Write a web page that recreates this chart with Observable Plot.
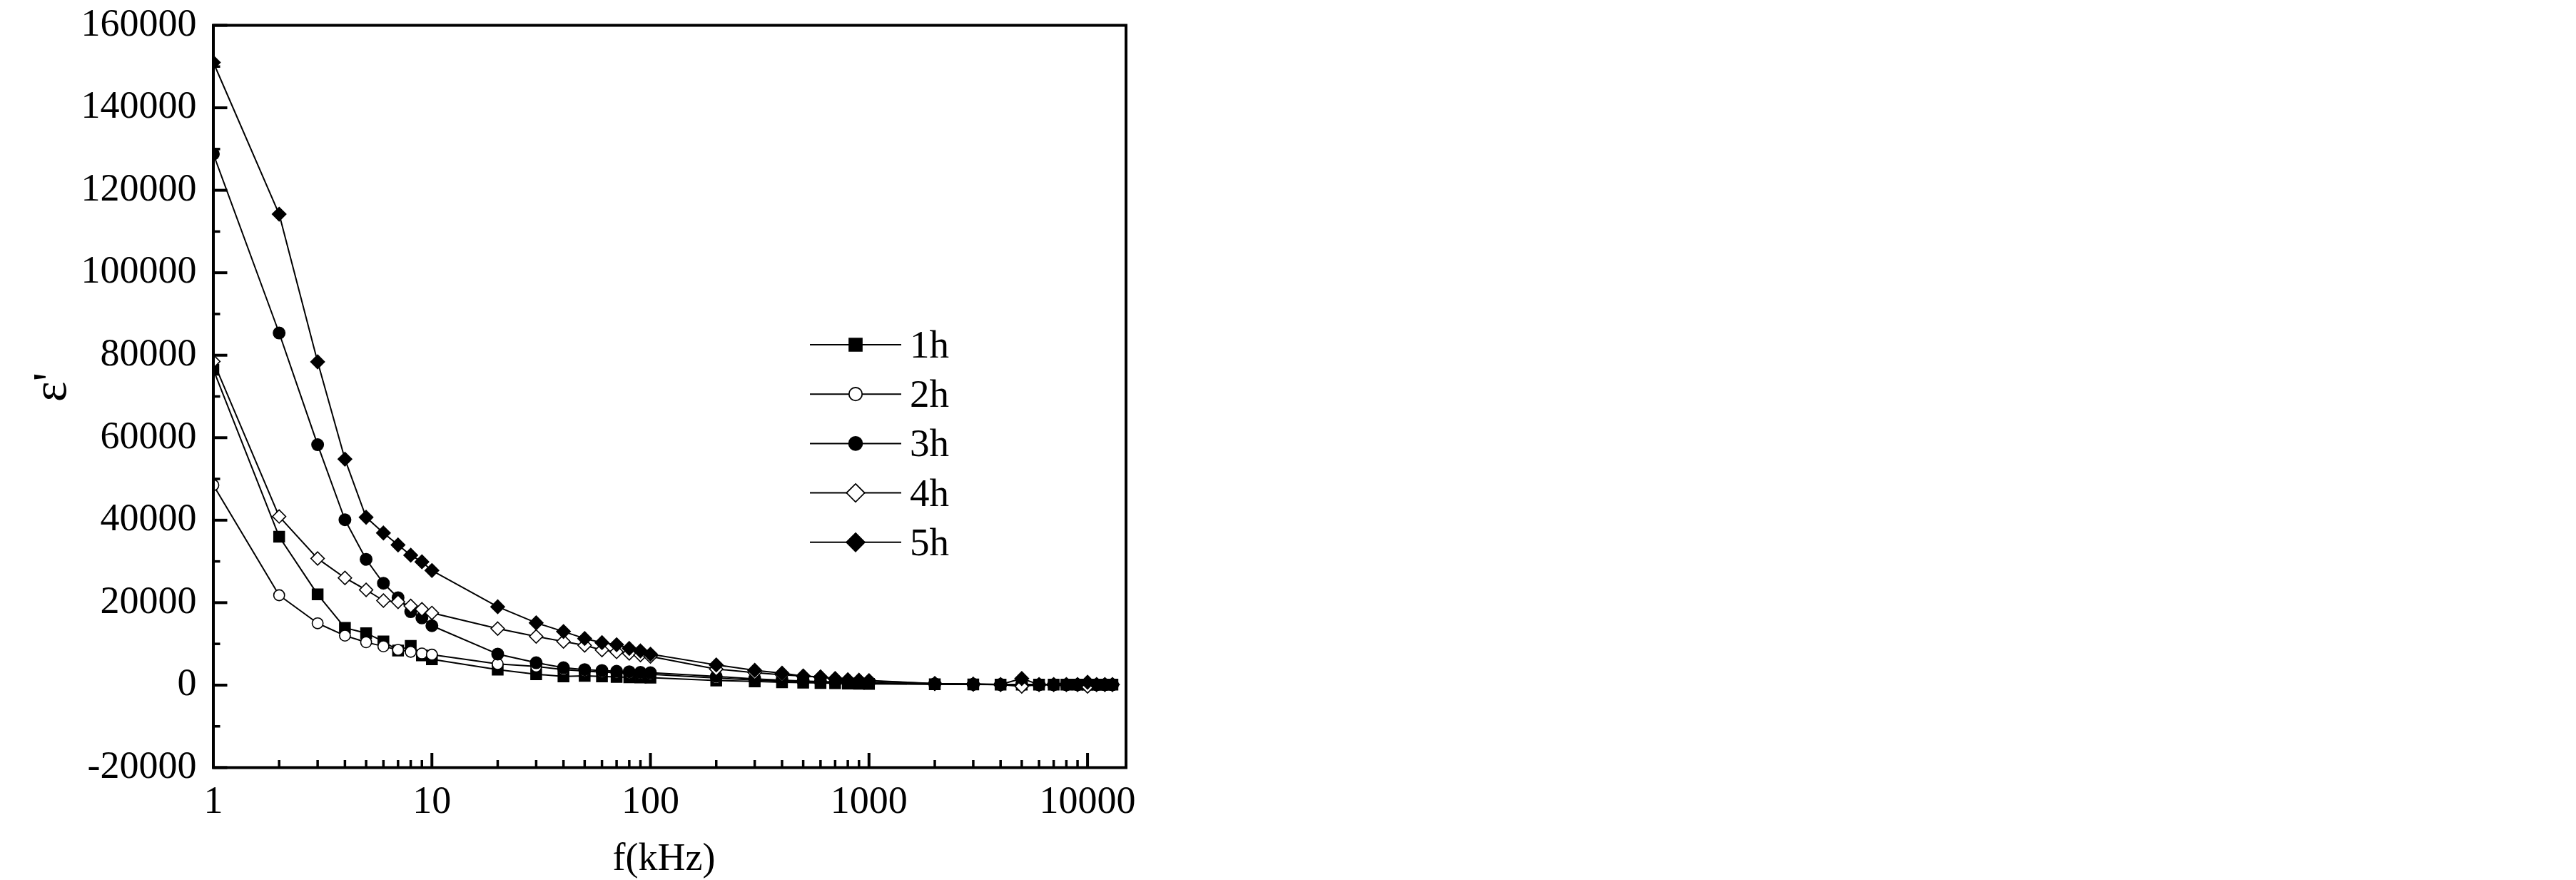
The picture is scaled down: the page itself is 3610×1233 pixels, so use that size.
<!DOCTYPE html>
<html>
<head>
<meta charset="utf-8">
<script src="https://cdn.jsdelivr.net/npm/d3@7"></script>
<script src="https://cdn.jsdelivr.net/npm/@observablehq/plot@0.6"></script>
<style>
  html, body { margin: 0; padding: 0; background: #ffffff; }
  #chart { position: relative; width: 3610px; height: 1233px; background: #ffffff; }
  #legend { position: absolute; left: 0; top: 0; pointer-events: none; }
</style>
</head>
<body>
<div id="chart"></div>
<script>
// ---------------- data ----------------
const series = ["1h", "2h", "3h", "4h", "5h"];

const freqKHz = [1, 2, 3, 4, 5, 6, 7, 8, 9, 10,
  20, 30, 40, 50, 60, 70, 80, 90, 100,
  200, 300, 400, 500, 600, 700, 800, 900, 1000,
  2000, 3000, 4000, 5000, 6000, 7000, 8000, 9000, 10000,
  11000, 12000, 13000];

const eps1h = [76500, 36000, 22000, 13900, 12600, 10600, 8400, 9500, 7200, 6250,
  3770, 2630, 2110, 2250, 2100, 2000, 1900, 1850, 1800,
  1120, 900, 700, 600, 500, 450, 400, 350, 300,
  200, 150, 120, 100, 100, 100, 100, 100, 100,
  100, 100, 100];

const eps2h = [48500, 21800, 15000, 12000, 10400, 9400, 8550, 8080, 7680, 7390,
  5120, 4520, 3770, 3390, 3150, 3000, 2850, 2750, 2630,
  1700, 1250, 950, 800, 700, 600, 500, 450, 400,
  250, 200, 150, 100, 100, 100, 100, 100, 100,
  100, 100, 100];

const eps3h = [128800, 85400, 58300, 40100, 30500, 24700, 21200, 17800, 16300, 14400,
  7530, 5430, 4220, 3770, 3550, 3350, 3240, 3100, 3010,
  2110, 1510, 1200, 1000, 850, 750, 650, 600, 550,
  300, 200, 150, 150, 100, 100, 100, 100, 100,
  100, 100, 100];

const eps4h = [78500, 40900, 30700, 26000, 23100, 20500, 20200, 19200, 18400, 17500,
  13700, 11800, 10600, 9640, 8510, 8060, 7680, 7300, 6940,
  3900, 3000, 2500, 2200, 1950, 1500, 1200, 1100, 1000,
  350, 200, 100, -300, 100, 100, 100, 100, -300,
  100, 100, 100];

const eps5h = [151000, 114200, 78400, 54800, 40700, 36900, 34000, 31500, 29900, 27800,
  19000, 15100, 13000, 11300, 10300, 9800, 8900, 8300, 7500,
  4900, 3600, 2900, 2200, 2000, 1600, 1300, 1200, 1100,
  400, 250, 150, 1600, 150, 150, 150, 150, 700,
  150, 150, 150];

const yMajorTicks = [-20000, 0, 20000, 40000, 60000, 80000, 100000, 120000, 140000, 160000];
const yMinorTicks = [-10000, 10000, 30000, 50000, 70000, 90000, 110000, 130000, 150000];
const xMajorTicks = [1, 10, 100, 1000, 10000];
const xMinorTicks = [2, 3, 4, 5, 6, 7, 8, 9,
  20, 30, 40, 50, 60, 70, 80, 90,
  200, 300, 400, 500, 600, 700, 800, 900,
  2000, 3000, 4000, 5000, 6000, 7000, 8000, 9000];

const xTitle = "f(kHz)";
const yTitle = "ε'";

// ---------------- table built from the arrays ----------------
const seriesValues = [eps1h, eps2h, eps3h, eps4h, eps5h];
const table = series.flatMap((s, k) =>
  freqKHz.map((f, i) => ({ series: s, f: f, eps: seriesValues[k][i] })));

// ---------------- styles ----------------
const markerStyle = {
  "1h": { symbol: "square",   fill: "black", r: 8.4, d3sym: d3.symbolSquare,   size: 320 },
  "2h": { symbol: "circle",   fill: "white", r: 7.6, d3sym: d3.symbolCircle,   size: 266 },
  "3h": { symbol: "circle",   fill: "black", r: 8.2, d3sym: d3.symbolCircle,   size: 280 },
  "4h": { symbol: "diamond2", fill: "white", r: 8.4, d3sym: d3.symbolDiamond2, size: 411 },
  "5h": { symbol: "diamond2", fill: "black", r: 8.6, d3sym: d3.symbolDiamond2, size: 420 }
};

const W = 3610, H = 1233;
const frameLeft = 298.5, frameRight = 1577.5, frameTop = 35, frameBottom = 1075;
const serif = "'Liberation Serif', 'Times New Roman', Times, serif";

const marks = [];
for (const s of series) {
  const rows = table.filter(d => d.series === s);
  marks.push(Plot.line(rows, { x: "f", y: "eps", stroke: "black", strokeWidth: 2, clip: true }));
  marks.push(Plot.dot(rows, {
    x: "f", y: "eps",
    symbol: markerStyle[s].symbol,
    fill: markerStyle[s].fill,
    stroke: "black", strokeWidth: 1.6,
    r: markerStyle[s].r,
    clip: true
  }));
}

marks.push(
  Plot.frame({ stroke: "black", strokeWidth: 4 }),
  // inward ticks
  Plot.axisY({ ticks: yMajorTicks, tickSize: 20, dx: 20, fill: "none", strokeWidth: 4, label: null }),
  Plot.axisY({ ticks: yMinorTicks, tickSize: 10, dx: 10, fill: "none", strokeWidth: 3.5, label: null }),
  Plot.axisX({ ticks: xMajorTicks, tickSize: 20, dy: -20, fill: "none", strokeWidth: 4, label: null }),
  Plot.axisX({ ticks: xMinorTicks, tickSize: 10, dy: -10, fill: "none", strokeWidth: 3.5, label: null }),
  // tick labels
  Plot.axisY({ ticks: yMajorTicks, tickSize: 0, tickPadding: 23.5, dy: -3, fontSize: 54,
    tickFormat: d => String(d), label: null }),
  Plot.axisX({ ticks: xMajorTicks, tickSize: 0, tickPadding: 25, fontSize: 54,
    tickFormat: d => String(d), label: null }),
  // axis titles
  Plot.text([yTitle], { text: d => d, frameAnchor: "left", rotate: -90, textAnchor: "middle",
    lineAnchor: "bottom", dx: -207, dy: -13, fontSize: 68, fill: "black" }),
  Plot.text([xTitle], { text: d => d, frameAnchor: "bottom", textAnchor: "middle",
    lineAnchor: "bottom", dx: -8, dy: 143, fontSize: 54, fill: "black" })
);

const chart = Plot.plot({
  width: W,
  height: H,
  marginLeft: frameLeft,
  marginRight: W - frameRight,
  marginTop: frameTop,
  marginBottom: H - frameBottom,
  x: { type: "log", domain: [1, 15000] },
  y: { domain: [-20000, 160000] },
  style: { fontFamily: serif, fontSize: "54px", color: "black", background: "white" },
  marks
});
document.getElementById("chart").appendChild(chart);

// ---------------- legend (inside plot area) ----------------
const leg = d3.select("#chart").append("svg")
  .attr("id", "legend").attr("width", W).attr("height", H);
const legLineX1 = 1135, legLineX2 = 1263, legMarkX = 1199, legTextX = 1275;
const legY0 = 483, legStep = 69.2;
series.forEach((s, i) => {
  const y = legY0 + i * legStep;
  leg.append("line")
    .attr("x1", legLineX1).attr("x2", legLineX2).attr("y1", y).attr("y2", y)
    .attr("stroke", "black").attr("stroke-width", 2);
  leg.append("path")
    .attr("d", d3.symbol(markerStyle[s].d3sym, markerStyle[s].size)())
    .attr("transform", `translate(${legMarkX},${y})`)
    .attr("fill", markerStyle[s].fill).attr("stroke", "black").attr("stroke-width", 1.8);
  leg.append("text")
    .attr("x", legTextX).attr("y", y + 18)
    .attr("font-family", serif).attr("font-size", 55).attr("fill", "black")
    .text(s);
});
</script>
</body>
</html>
